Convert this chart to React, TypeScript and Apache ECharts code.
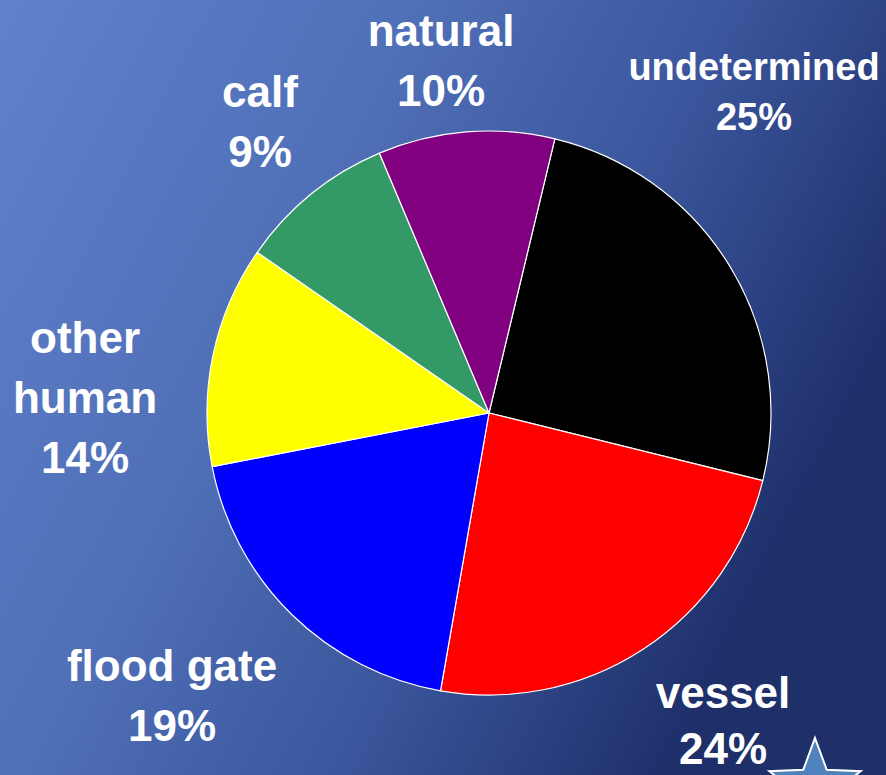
import React, { useEffect, useRef } from "react";
import * as echarts from "echarts";

const categories = ["undetermined", "vessel", "flood gate", "other human", "calf", "natural"];
const labelLines = ["undetermined", "vessel", "flood gate", "other\nhuman", "calf", "natural"];
const sliceValues = [25.1, 23.9, 19.2, 12.7, 9.0, 10.1];
const percentLabels = ["25%", "24%", "19%", "14%", "9%", "10%"];
const sliceColors = ["#000000", "#ff0000", "#0000ff", "#ffff00", "#339966", "#800080"];

// label block centers (layout only)
const labelPos: [number, number][] = [
  [754, 92],
  [723, 720],
  [172, 695],
  [85, 397],
  [260, 121],
  [441, 60],
];

export default function App() {
  const ref = useRef<HTMLDivElement>(null);
  useEffect(() => {
    if (!ref.current) return;
    const chart = echarts.init(ref.current, null, { renderer: "svg" });
    const R = 48;
    const r = 20;
    const cx = 815;
    const cy = 786;
    const starPts: number[][] = [];
    for (let k = 0; k < 10; k++) {
      const a = (k * Math.PI) / 5;
      const rad = k % 2 === 0 ? R : r;
      starPts.push([cx + rad * Math.sin(a), cy - rad * Math.cos(a)]);
    }
    chart.setOption({
      animation: false,
      backgroundColor: new echarts.graphic.LinearGradient(0, 0, 1, 0.45, [
        { offset: 0, color: "#6082ca" },
        { offset: 0.4, color: "#4f6fb7" },
        { offset: 0.7, color: "#3a559b" },
        { offset: 1, color: "#1e2f6a" },
      ]),
      graphic: [
        {
          type: "polygon",
          shape: { points: starPts },
          style: { fill: "#4f81bd", stroke: "#ffffff", lineWidth: 2 },
          z: 10,
        },
      ],
      series: [
        {
          type: "pie",
          center: [489, 413],
          radius: [0, 282],
          startAngle: 76.5,
          clockwise: true,
          avoidLabelOverlap: false,
          itemStyle: { borderColor: "#ffffff", borderWidth: 1.2 },
          labelLine: { show: false },
          label: {
            show: true,
            position: "outside",
            color: "#ffffff",
            fontFamily: "Liberation Sans, Arial, sans-serif",
            fontWeight: "bold",
            fontSize: 44,
            lineHeight: 60,
            align: "center",
            formatter: (p: any) => labelLines[p.dataIndex] + "\n" + percentLabels[p.dataIndex],
          },
          labelLayout: (p: any) => ({
            x: labelPos[p.dataIndex][0],
            y: labelPos[p.dataIndex][1],
            align: "center",
            verticalAlign: "middle",
          }),
          data: categories.map((name, i) => ({
            name,
            value: sliceValues[i],
            itemStyle: { color: sliceColors[i] },
            label:
              i === 0
                ? { fontSize: 38, lineHeight: 50 }
                : i === 1
                ? { lineHeight: 56 }
                : undefined,
          })),
        },
      ],
    });
    return () => chart.dispose();
  }, []);
  return (
    <div
      ref={ref}
      style={{ position: "fixed", left: 0, top: 0, width: 886, height: 775 }}
    />
  );
}
